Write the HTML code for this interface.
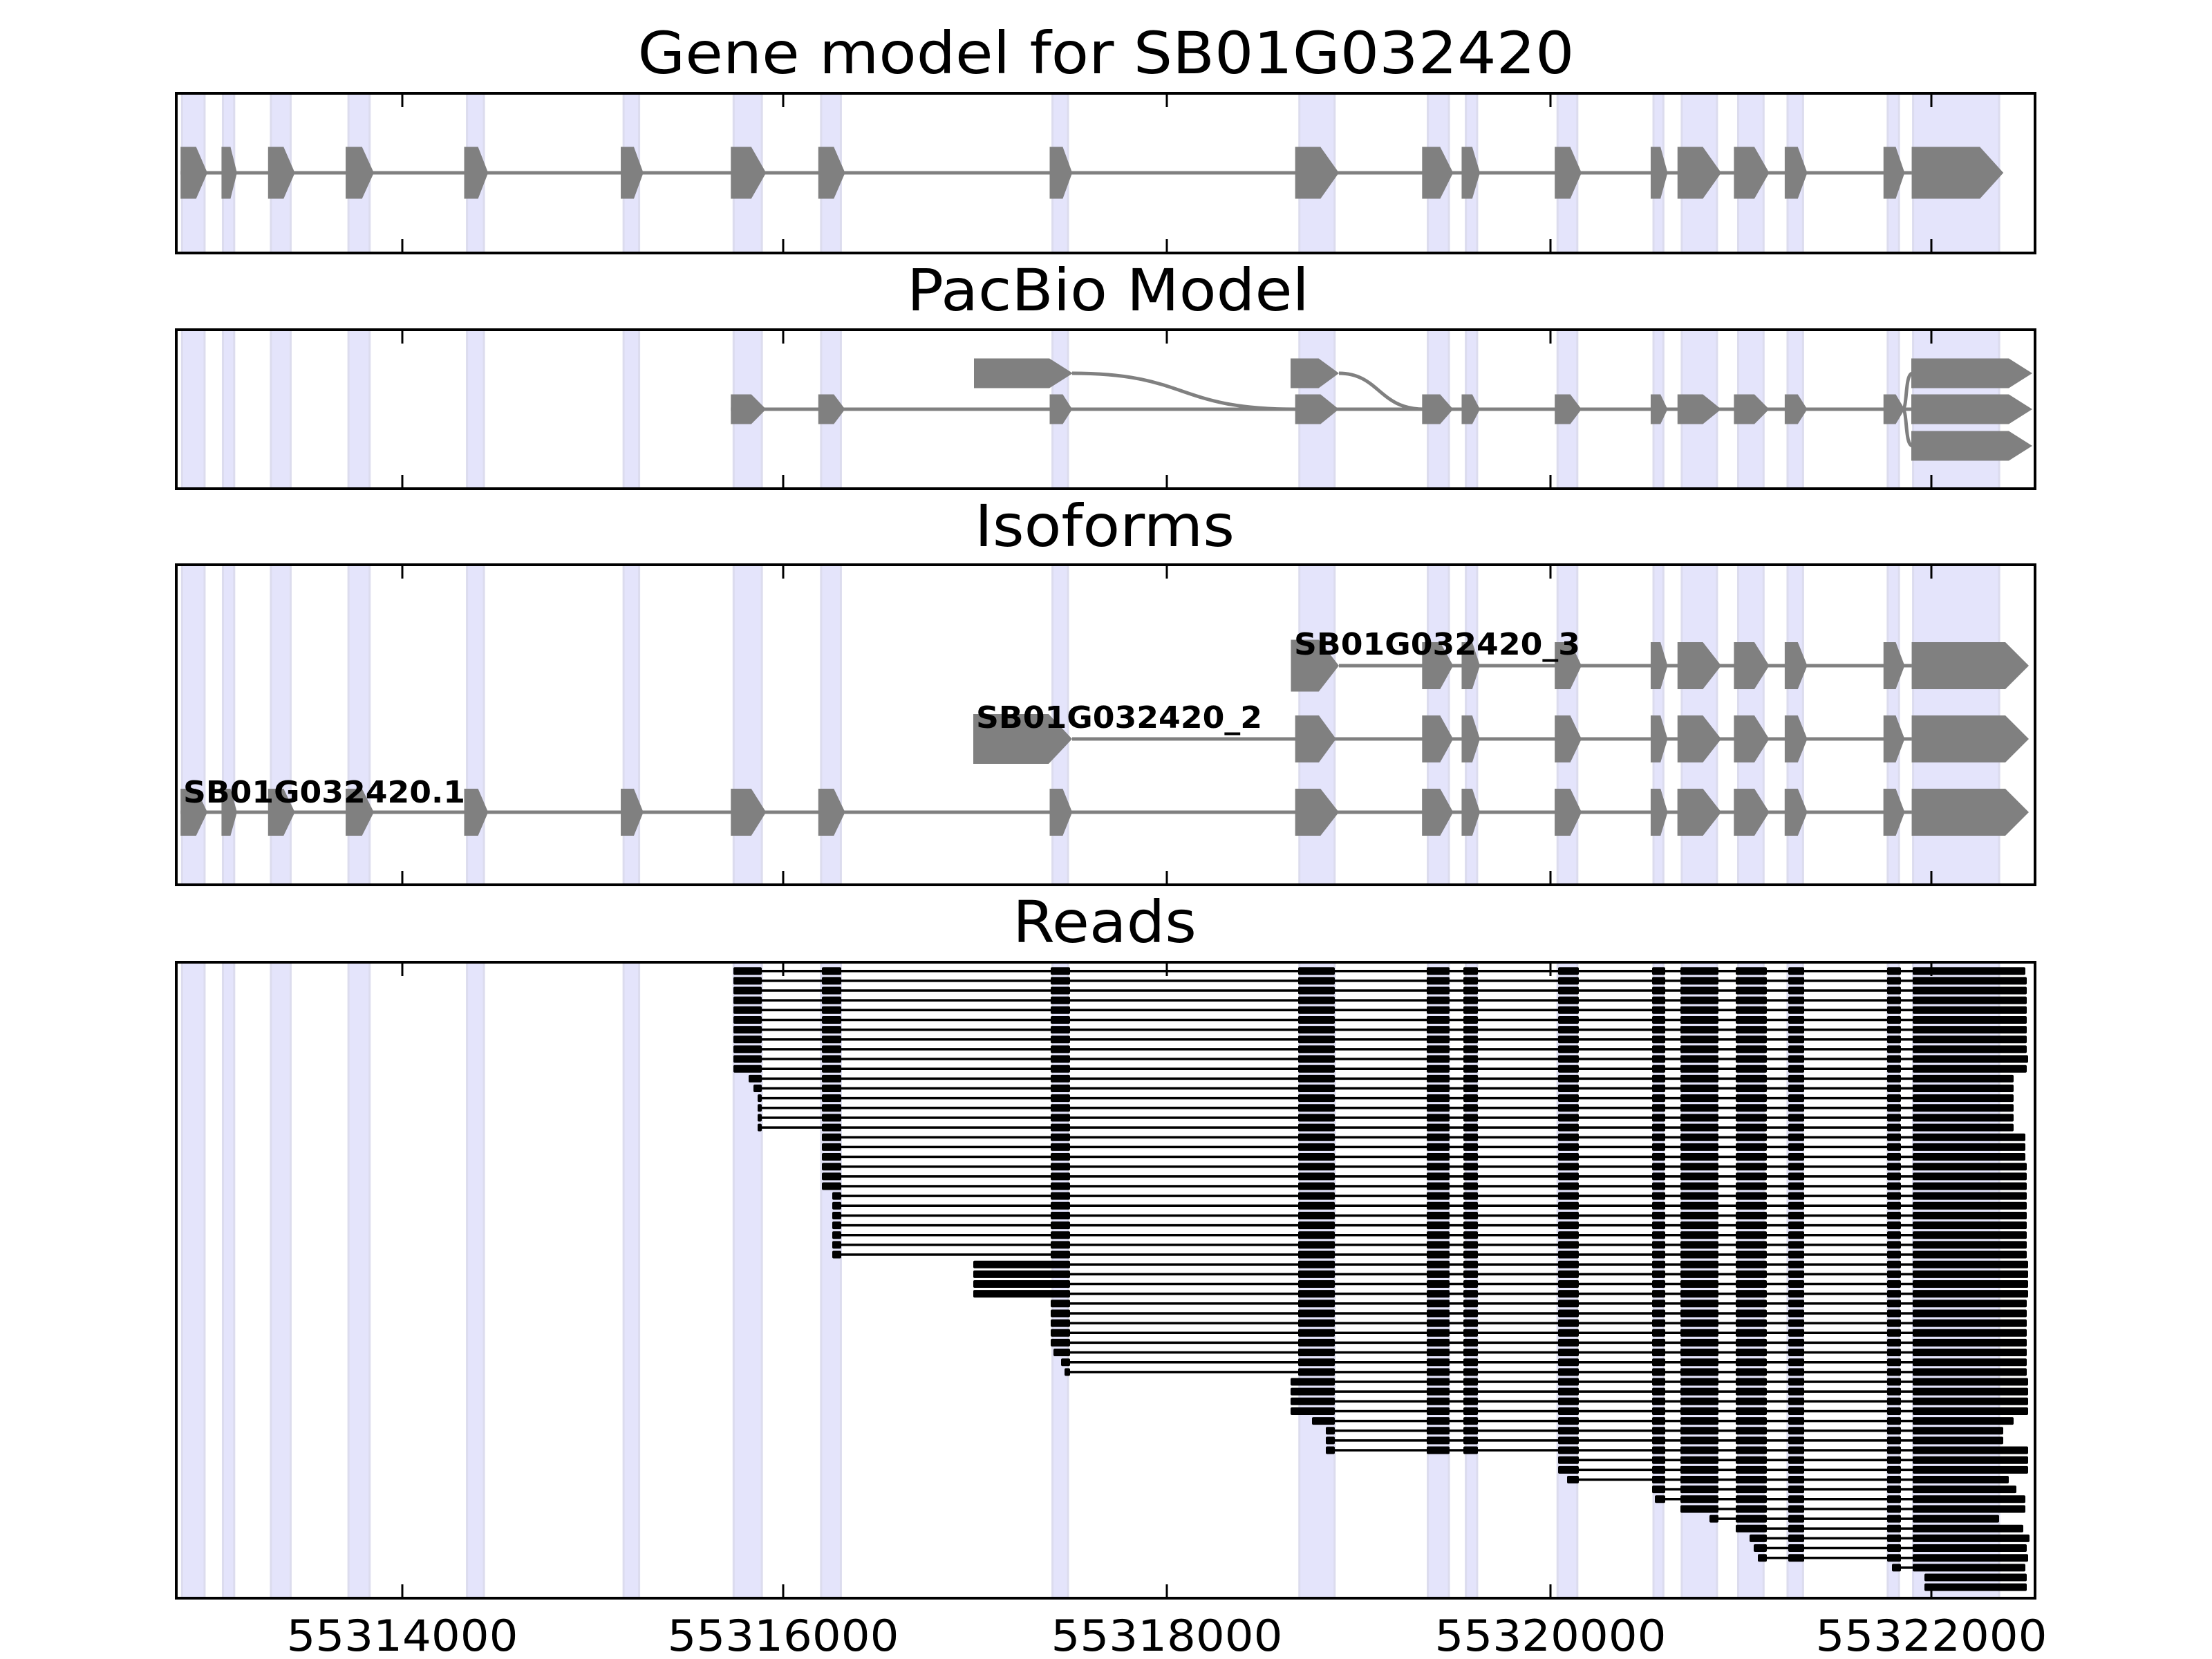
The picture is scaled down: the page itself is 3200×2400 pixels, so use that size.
<!DOCTYPE html>
<html><head><meta charset="utf-8"><style>
html,body{margin:0;padding:0;background:#fff;}
svg{display:block;}
text{font-family:"DejaVu Sans","Liberation Sans",sans-serif;}
</style></head><body>
<svg id="s" xmlns="http://www.w3.org/2000/svg" width="3200" height="2400" viewBox="0 0 3200 2400">
<rect width="3200" height="2400" fill="#fff"/>
<g id="shade"></g>
<g id="feat"></g>
<g id="axes"></g>
<text x="1600" y="106" font-size="84" text-anchor="middle" textLength="1355" lengthAdjust="spacingAndGlyphs">Gene model for SB01G032420</text>
<text x="1603" y="449" font-size="84" text-anchor="middle" textLength="582" lengthAdjust="spacingAndGlyphs">PacBio Model</text>
<text x="1598" y="790" font-size="84" text-anchor="middle" textLength="376" lengthAdjust="spacingAndGlyphs">Isoforms</text>
<text x="1598" y="1363" font-size="84" text-anchor="middle" textLength="266" lengthAdjust="spacingAndGlyphs">Reads</text>
<text x="265" y="1161" font-size="44" font-weight="bold" textLength="408" lengthAdjust="spacingAndGlyphs">SB01G032420.1</text>
<text x="1412" y="1053" font-size="44" font-weight="bold" textLength="414" lengthAdjust="spacingAndGlyphs">SB01G032420_2</text>
<text x="1872" y="947" font-size="44" font-weight="bold" textLength="414" lengthAdjust="spacingAndGlyphs">SB01G032420_3</text>
<text x="582" y="2388" font-size="62" text-anchor="middle" textLength="335" lengthAdjust="spacingAndGlyphs">55314000</text>
<text x="1133" y="2388" font-size="62" text-anchor="middle" textLength="335" lengthAdjust="spacingAndGlyphs">55316000</text>
<text x="1688" y="2388" font-size="62" text-anchor="middle" textLength="335" lengthAdjust="spacingAndGlyphs">55318000</text>
<text x="2243" y="2388" font-size="62" text-anchor="middle" textLength="335" lengthAdjust="spacingAndGlyphs">55320000</text>
<text x="2794" y="2388" font-size="62" text-anchor="middle" textLength="335" lengthAdjust="spacingAndGlyphs">55322000</text>
</svg>
<script>
(function(){
var NS="http://www.w3.org/2000/svg";
function el(p,t,a){var e=document.createElementNS(NS,t);for(var k in a)e.setAttribute(k,a[k]);p.appendChild(e);return e;}
var shade=document.getElementById('shade'),feat=document.getElementById('feat'),axes=document.getElementById('axes');
var K=2.041;
var panels=[[135,366],[477,707],[817,1280],[1392,2312]];
var L=255,R=2944;
var sh=[[129,145],[158,166],[192,206],[247,262],[331,343],[442,453],[520,540],[582,596],[746,757],[921,946],[1012,1027],[1039,1047],[1104,1118],[1172,1179],[1192,1217],[1232,1250],[1267,1278],[1338,1346],[1356,1417]];
panels.forEach(function(p){
  sh.forEach(function(s){
    el(shade,'rect',{x:s[0]*K,y:p[0],width:(s[1]-s[0])*K,height:p[1]-p[0],fill:'#e4e4fb',stroke:'#dcdcee','stroke-width':3});
  });
  el(axes,'rect',{x:L,y:p[0],width:R-L,height:p[1]-p[0],fill:'none',stroke:'#000','stroke-width':4});
  [582,1133,1688,2243,2794].forEach(function(x){
    el(axes,'line',{x1:x,y1:p[0],x2:x,y2:p[0]+20,stroke:'#000','stroke-width':3});
    el(axes,'line',{x1:x,y1:p[1],x2:x,y2:p[1]-20,stroke:'#000','stroke-width':3});
  });
});
var G='#808080';
function ex(x1,x2,yc,h){
  var w=x2-x1,hd=Math.min(0.42*w,34);
  el(feat,'polygon',{points:[x1,yc-h/2,x2-hd,yc-h/2,x2,yc,x2-hd,yc+h/2,x1,yc+h/2].join(' '),fill:G});
}
function ln(x1,x2,y){el(feat,'line',{x1:x1,y1:y,x2:x2,y2:y,stroke:G,'stroke-width':5});}
var gm=[[128,147],[157,168],[190,209],[245,265],[329,346],[440,456],[518,543],[580,599],[744,760],[918,949],[1008,1030],[1036,1049],[1102,1121],[1170,1182],[1189,1220],[1229,1254],[1265,1281],[1335,1350],[1355,1420]];
// panel 1
ln(128*K,1355*K,250);
gm.forEach(function(e){ex(e[0]*K,e[1]*K,250,75);});
// panel 2
ln(518*K,2765,592);
el(feat,'path',{d:'M1551,540 C1720,540 1700,592 1874,592',fill:'none',stroke:G,'stroke-width':5});
el(feat,'path',{d:'M1937,540 C1995,540 1995,592 2060,592',fill:'none',stroke:G,'stroke-width':5});
el(feat,'path',{d:'M2752,592 C2760,592 2755,540 2767,540 M2752,592 C2760,592 2755,645 2767,645',fill:'none',stroke:G,'stroke-width':5});
ex(1409,1552,540,43);ex(1867,1937,540,43);
gm.slice(6,18).forEach(function(e){ex(e[0]*K,e[1]*K,592,43);});
[540,592,645].forEach(function(y){ex(2765,2940,y,43);});
// panel 3
var rest=gm.slice(10,18);
function tail(y){rest.forEach(function(e){ex(e[0]*K,e[1]*K,y,68);});ex(1355*K,2935,y,68);}
ln(128*K,1355*K,1175);
gm.slice(0,18).forEach(function(e){ex(e[0]*K,e[1]*K,1175,68);});
tail(1175);
ln(1551,1355*K,1069);
ex(1408,1551,1069,72);ex(918*K,947*K,1069,68);tail(1069);
ln(949*K,1355*K,963);
ex(915*K,949*K,963,75);tail(963);
// reads
var E=[[1061,1102],[1189,1217],[1520,1548],[1878,1931],[2064,2097],[2117,2138],[2254,2284],[2390,2409],[2431,2486],[2511,2556],[2587,2610],[2730,2750],[2767,9999]];
var rows=[];
function add(n,start,end){for(var i=0;i<n;i++)rows.push([typeof start=='object'?start[i]:start,typeof end=='object'?end[i]:end]);}
add(11,1060,[2930,2932,2932,2932,2932,2932,2932,2932,2932,2934,2932]);
add(6,[1083,1090,1096,1096,1096,1096],2913);
add(6,1189,[2930,2930,2930,2932,2932,2932]);
add(7,1204,2932);
add(4,1408,2934);
add(8,[1519,1519,1519,1519,1520,1524,1535,1540],2932);
add(4,1867,2934);
add(4,[1898,1918,1918,1918],[2913,2898,2898,2934]);
add(3,[2254,2254,2267],[2934,2934,2906]);
add(11,[2388,2394,2429,2473,2511,2531,2537,2543,2737,2784,2784],[2917,2930,2930,2892,2927,2936,2932,2934,2930,2932,2932]);
var rg=el(feat,'g',{});
rows.forEach(function(r,i){
  var y=1404.7+14.15*i,s=r[0],e=r[1];
  var blocks=[];
  E.forEach(function(b){
    var a=Math.max(b[0],s),c=Math.min(b[1],e);
    if(s>b[0]&&s<b[1]+5)a=s;
    if(c>a)blocks.push([a,c]);
  });
  if(s<1500&&s>=1400){blocks=blocks.filter(function(b){return b[0]>=1520;});blocks[0]=[s,1548];}
  else if(s>=1860&&s<1878){blocks[0]=[s,blocks[0][1]];}
  if(blocks.length){
    el(rg,'line',{x1:blocks[0][0],y1:y,x2:blocks[blocks.length-1][1],y2:y,stroke:'#000','stroke-width':3.5});
    blocks.forEach(function(b){el(rg,'rect',{x:b[0],y:y-5.5,width:b[1]-b[0],height:11,rx:2,fill:'#000'});});
  }
});
})();
</script>
</body></html>
